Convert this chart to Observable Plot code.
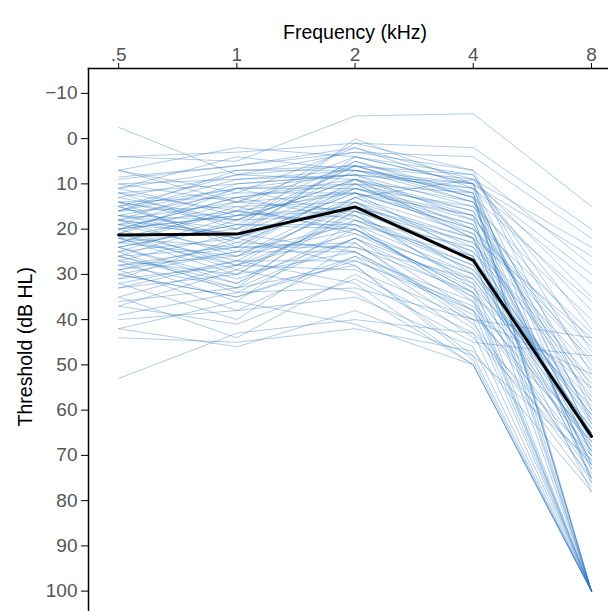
<!DOCTYPE html>
<html>
<head>
<meta charset="utf-8">
<script src="https://cdn.jsdelivr.net/npm/d3@7"></script>
<script src="https://cdn.jsdelivr.net/npm/@observablehq/plot@0.6"></script>
<style>
  body { margin: 0; background: #fff; }
  #chart svg text { font-family: "Liberation Sans", Arial, sans-serif; }
  #chart g[aria-label="y-axis tick label"] text { fill: #555; }
</style>
</head>
<body>
<div id="chart"></div>
<script>
const freqs = [0.5, 1, 2, 4, 8];
const tickLabels = [".5", "1", "2", "4", "8"];
const yTicks = [-10, 0, 10, 20, 30, 40, 50, 60, 70, 80, 90, 100];

// thresholds (dB HL) per listener at each frequency
const t500 = [-2.5,4,4,7,7,7,8.5,10,11,11,12,12,13,14,14,15,15,16,16,17,17,17,18,18,18,19,19,19,20,20,20,21,21,22,22,22,23,23,24,24,25,25,26,26,27,27,28,28,29,29,30,30,31,31,32,33,33,35,36,37,40,42,42,44,53,15,12,9,14,16,18,21,23,25,27,20,18,22,24,26,28,30,32,19,17,16,15,13,11,10,21,23,24,35,37,39,29,26,20,14];
const t1000 = [8,5,3,12,2,14,6,9,17,4,10,20,8,13,19,11,23,7,15,22,12,18,26,10,14,25,16,21,13,28,17,11,27,24,16,30,20,15,32,19,22,34,18,24,36,21,33,26,23,38,25,35,28,22,40,27,30,44,33,29,38,46,36,45,43,8,16,6,18,11,21,14,26,17,30,13,22,28,19,33,24,35,27,11,20,9,22,18,7,14,29,16,31,28,41,34,25,32,17,24];
const t2000 = [6,-5,1,2,4,6,3,8,5,7,8,0,9,10,6,11,13,7,14,4,12,9,15,8,16,10,12,5,18,13,11,17,14,9,20,15,10,21,16,19,12,22,17,23,18,25,14,20,24,26,19,27,21,28,23,32,25,30,28,34,35,38,41,42,40,3,1,2,6,8,11,12,13,15,16,9,14,18,20,22,24,26,27,10,7,7,12,9,6,4,17,19,22,29,31,33,25,20,16,11];
const t4000 = [14,-5.5,2,9,10,8,7,10,12,11,18,10,20,22,9,15,24,12,30,8,26,14,22,11,33,21,17,13,28,9,19,32,25,16,34,27,12,30,23,36,20,38,29,40,24,42,22,35,31,44,26,37,33,49,41,50,39,43,48,50,46,48,50,47,43,4,7,11,13,15,18,20,21,23,25,17,27,29,31,32,34,36,38,16,14,10,19,22,13,10,28,30,35,40,45,40,38,34,26,17];
const t8000 = [45,15,20,24,30,52,60,100,66,70,72,26,100,75,35,62,68,100,64,47,78,55,100,38,70,66,58,100,73,42,67,100,63,50,76,69,100,65,57,100,48,74,61,100,53,77,44,100,68,72,100,66,59,100,75,100,67,100,71,100,100,100,100,78,70,22,28,32,36,40,43,46,49,51,54,56,60,62,64,65,67,69,71,73,75,76,72,69,66,63,61,58,55,52,48,44,100,100,65,100];

// group mean
const meanThreshold = [21.3, 21.1, 15.1, 26.9, 65.8];

const series = [t500, t1000, t2000, t4000, t8000];
const rows = [];
for (let i = 0; i < t500.length; i++) {
  freqs.forEach((f, j) => rows.push({id: i, f, t: series[j][i]}));
}
const meanRows = freqs.map((f, j) => ({f, t: meanThreshold[j]}));
const tickRows = freqs.map((f, j) => ({f, label: tickLabels[j]}));

const chart = Plot.plot({
  width: 608,
  height: 611,
  marginTop: 68,
  marginLeft: 88,
  marginRight: 0,
  marginBottom: 0,
  style: {fontFamily: "'Liberation Sans', Arial, sans-serif", fontSize: "19px", background: "#fff", overflow: "visible"},
  x: {type: "log", domain: [0.419, 8.84]},
  y: {domain: [-15.5, 104.5], reverse: true},
  marks: [
    Plot.line(rows, {x: "f", y: "t", z: "id", stroke: "#2a78c2", strokeOpacity: 0.42, strokeWidth: 0.9}),
    Plot.line(meanRows, {x: "f", y: "t", stroke: "#000", strokeWidth: 3}),
    Plot.frame({anchor: "top", stroke: "#000", strokeWidth: 1.5}),
    Plot.frame({anchor: "left", stroke: "#000", strokeWidth: 1.5}),
    Plot.axisX({anchor: "top", ticks: freqs, tickSize: 6, text: null, label: null}),
    Plot.text(tickRows, {x: "f", text: "label", frameAnchor: "top", dy: -21, fontSize: 19, fill: "#555"}),
    Plot.axisY({ticks: yTicks, tickSize: 7, tickPadding: 4, label: null, fontSize: 19}),
    Plot.text(["Frequency (kHz)"], {x: 2, frameAnchor: "top", dy: -43, fontSize: 19.5, fill: "#000"}),
    Plot.text(["Threshold (dB HL)"], {y: 46, frameAnchor: "left", dx: -63, rotate: -90, textAnchor: "middle", fontSize: 19.5, fill: "#000"})
  ]
});
document.getElementById("chart").appendChild(chart);
</script>
</body>
</html>
